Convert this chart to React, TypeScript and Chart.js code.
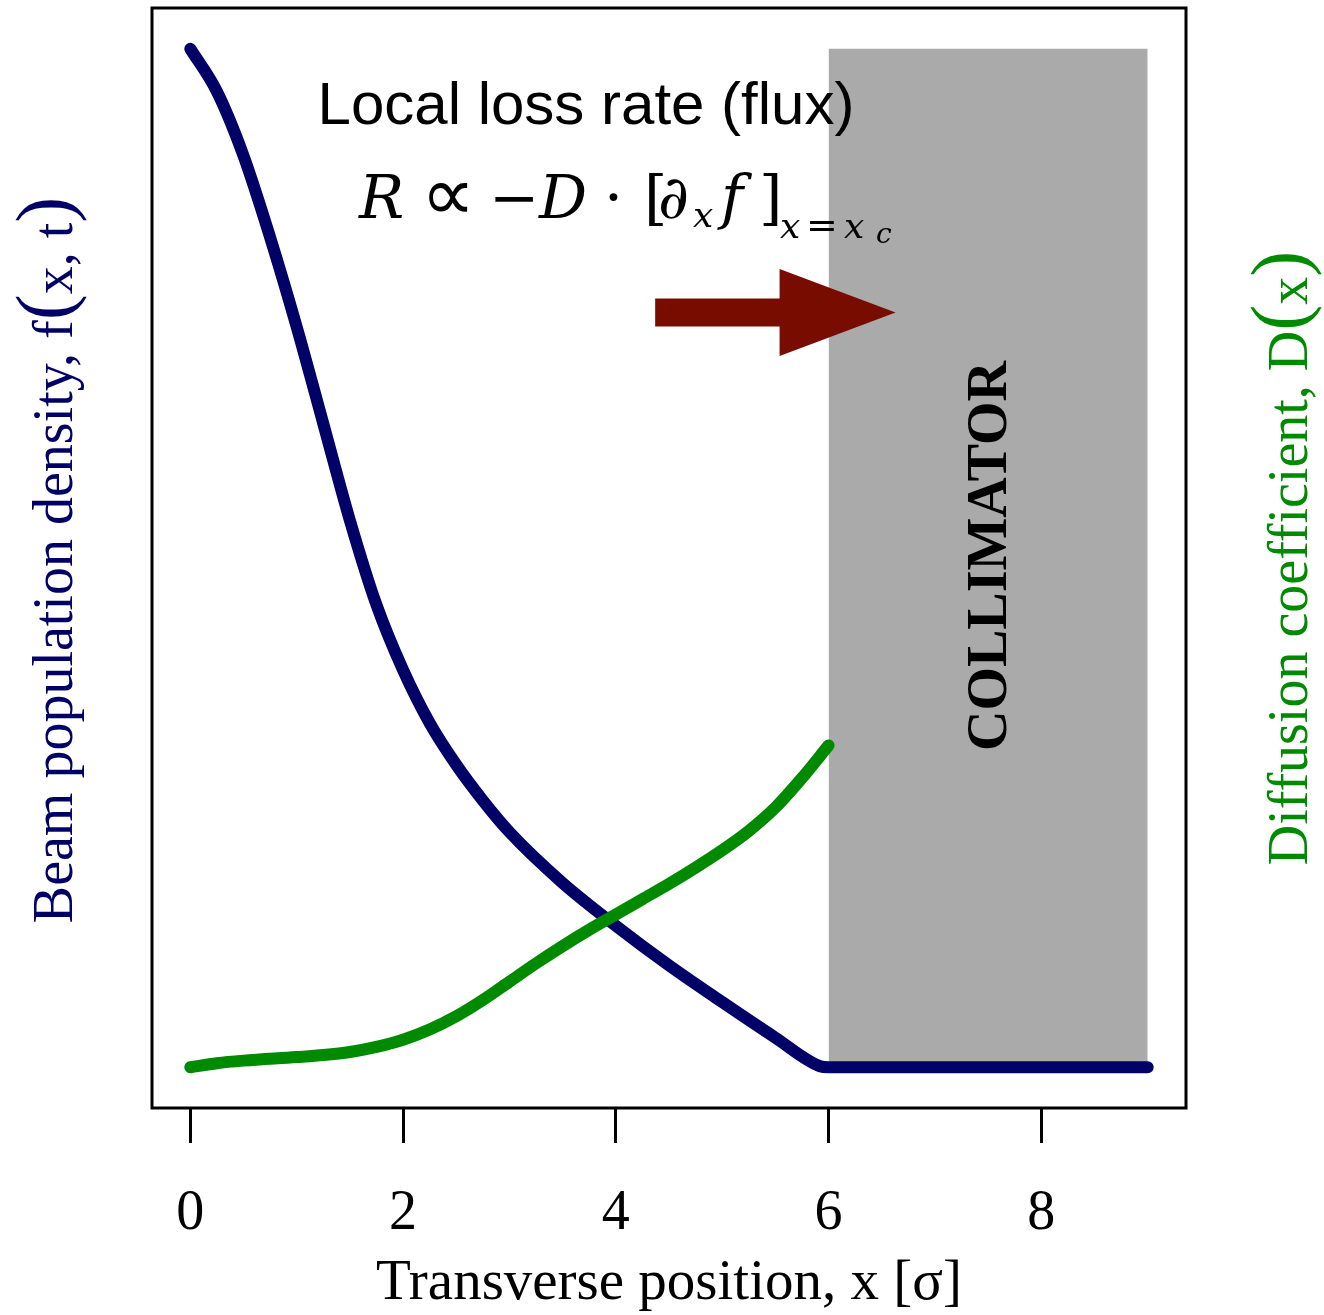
import { useEffect, useRef } from "react";
import { Chart, registerables } from "chart.js";

Chart.register(...registerables);

// Beam population density f(x, t) across the transverse position (in sigma)
const DENSITY_X = [0, 0.25, 0.5, 0.75, 1.0, 1.25, 1.5, 1.75, 2.0, 2.25, 2.5, 2.75, 3.0, 3.5, 4.0, 4.5, 5.0, 5.5, 5.92, 6.0, 9.0];
const DENSITY_F = [1.0, 0.958, 0.895, 0.815, 0.727, 0.632, 0.537, 0.454, 0.39, 0.338, 0.297, 0.262, 0.231, 0.181, 0.139, 0.1, 0.064, 0.029, 0.001, 0, 0];

// Diffusion coefficient D(x), defined up to the collimator edge
const DIFFUSION_X = [0, 0.25, 0.5, 1.0, 1.25, 1.5, 1.75, 2.0, 2.25, 2.5, 2.75, 3.0, 3.25, 3.5, 3.75, 4.0, 4.25, 4.5, 4.75, 5.0, 5.25, 5.5, 5.75, 6.0];
const DIFFUSION_D = [0.0, 0.004, 0.0065, 0.01, 0.012, 0.015, 0.02, 0.027, 0.037, 0.05, 0.066, 0.084, 0.102, 0.119, 0.135, 0.15, 0.165, 0.18, 0.196, 0.213, 0.232, 0.255, 0.284, 0.316];

// Collimator jaw: from the edge x_c to the end of the range, full height
const COLLIMATOR_X = [6, 9];
const COLLIMATOR_HEIGHT = 1.0;

const X_TICKS = [0, 2, 4, 6, 8];
const X_LIMITS = [-0.36, 9.36];
const Y_LIMITS = [-0.04, 1.04];

// Flux arrow pointing into the collimator (data coordinates)
const ARROW_X = [4.37, 6.63];
const ARROW_Y = 0.741;

const NAVY = "#000066";
const GREEN = "#008a00";
const GREY = "#aaaaaa";
const DARK_RED = "#780c00";
const SERIF = '"Liberation Serif", "Times New Roman", "DejaVu Serif", serif';
const MATH = '"DejaVu Serif", "Liberation Serif", serif';
const SANS = '"Liberation Sans", Arial, "DejaVu Sans", sans-serif';

type Run = { text: string; font: string; dx?: number; dy?: number };

function drawRotatedRuns(ctx: CanvasRenderingContext2D, baseX: number, centerY: number, runs: Run[], color: string) {
  ctx.save();
  ctx.translate(baseX, centerY);
  ctx.rotate(-Math.PI / 2);
  ctx.fillStyle = color;
  ctx.textBaseline = "alphabetic";
  ctx.textAlign = "left";
  let total = 0;
  const widths = runs.map((r) => {
    ctx.font = r.font;
    const w = ctx.measureText(r.text).width;
    total += w;
    return w;
  });
  let pos = -total / 2;
  runs.forEach((r, i) => {
    ctx.font = r.font;
    ctx.fillText(r.text, pos, r.dy ?? 0);
    pos += widths[i];
  });
  ctx.restore();
}

const decorations = {
  id: "decorations",
  afterDatasetsDraw(chart: any) {
    const { ctx, chartArea: a, scales } = chart;
    const x = scales.x;
    const y = scales.y;
    ctx.save();

    // plot frame
    ctx.strokeStyle = "#000";
    ctx.lineWidth = 3;
    ctx.strokeRect(a.left, a.top, a.right - a.left, a.bottom - a.top);

    // flux arrow
    const x0 = x.getPixelForValue(ARROW_X[0]);
    const x1 = x.getPixelForValue(ARROW_X[1]);
    const ay = y.getPixelForValue(ARROW_Y);
    const headLen = 116;
    const headHalf = 43.5;
    const shaftHalf = 14;
    ctx.fillStyle = DARK_RED;
    ctx.beginPath();
    ctx.moveTo(x0, ay - shaftHalf);
    ctx.lineTo(x1 - headLen, ay - shaftHalf);
    ctx.lineTo(x1 - headLen, ay - headHalf);
    ctx.lineTo(x1, ay);
    ctx.lineTo(x1 - headLen, ay + headHalf);
    ctx.lineTo(x1 - headLen, ay + shaftHalf);
    ctx.lineTo(x0, ay + shaftHalf);
    ctx.closePath();
    ctx.fill();

    // heading
    ctx.fillStyle = "#000";
    ctx.font = `60px ${SANS}`;
    ctx.textAlign = "center";
    ctx.textBaseline = "alphabetic";
    ctx.fillText("Local loss rate (flux)", 586, 124);

    // flux formula
    const fx = 359;
    const fy = 218;
    const it = (s: number) => `italic ${s}px ${MATH}`;
    const up = (s: number) => `${s}px ${MATH}`;
    const formula: Run[] = [
      { text: "R", font: it(60), dx: 0 },
      { text: "∝", font: `76px "DejaVu Sans", ${MATH}`, dx: 62, dy: 2 },
      { text: "−", font: up(60), dx: 130 },
      { text: "D", font: it(60), dx: 180 },
      { text: "·", font: up(60), dx: 245 },
      { text: "[", font: up(60), dx: 285 },
      { text: "∂", font: it(60), dx: 299 },
      { text: "x", font: it(36), dx: 334, dy: 9 },
      { text: "f", font: it(60), dx: 362 },
      { text: "]", font: up(60), dx: 400 },
      { text: "x", font: it(36), dx: 421, dy: 20 },
      { text: "=", font: up(38), dx: 447, dy: 20 },
      { text: "x", font: it(36), dx: 485, dy: 20 },
      { text: "c", font: it(28), dx: 517, dy: 25 },
    ];
    ctx.textAlign = "left";
    formula.forEach((r) => {
      ctx.font = r.font;
      ctx.fillText(r.text, fx + (r.dx ?? 0), fy + (r.dy ?? 0));
    });

    // collimator label
    ctx.save();
    ctx.translate(x.getPixelForValue(7.5) + 3, y.getPixelForValue(0.5) - 2);
    ctx.rotate(-Math.PI / 2);
    ctx.font = `bold 56px ${SERIF}`;
    ctx.textAlign = "center";
    ctx.textBaseline = "middle";
    ctx.fillStyle = "#000";
    ctx.fillText("COLLIMATOR", 0, 0);
    ctx.restore();

    // axis titles for the two curves
    const mid = (a.top + a.bottom) / 2;
    drawRotatedRuns(
      ctx,
      72,
      mid + 2,
      [
        { text: "Beam population density, f", font: `56px ${SERIF}` },
        { text: "(", font: `78px ${SERIF}`, dy: -2 },
        { text: "x, t", font: `56px ${SERIF}` },
        { text: ")", font: `78px ${SERIF}`, dy: -2 },
      ],
      NAVY
    );
    drawRotatedRuns(
      ctx,
      1307,
      mid,
      [
        { text: "Diffusion coefficient, D", font: `56px ${SERIF}` },
        { text: "(", font: `78px ${SERIF}`, dy: -2 },
        { text: "x", font: `56px ${SERIF}` },
        { text: ")", font: `78px ${SERIF}`, dy: -2 },
      ],
      GREEN
    );

    ctx.restore();
  },
};

export default function App() {
  const ref = useRef<HTMLCanvasElement>(null);

  useEffect(() => {
    const canvas = ref.current;
    if (!canvas) return;
    const chart = new Chart(canvas, {
      type: "line",
      data: {
        datasets: [
          {
            label: "D(x)",
            data: DIFFUSION_X.map((v, i) => ({ x: v, y: DIFFUSION_D[i] })),
            borderColor: GREEN,
            borderWidth: 12,
            borderCapStyle: "round",
            borderJoinStyle: "round",
            cubicInterpolationMode: "monotone",
            pointRadius: 0,
            fill: false,
            order: 0,
          },
          {
            label: "f(x, t)",
            data: DENSITY_X.map((v, i) => ({ x: v, y: DENSITY_F[i] })),
            borderColor: NAVY,
            borderWidth: 12,
            borderCapStyle: "round",
            borderJoinStyle: "round",
            cubicInterpolationMode: "monotone",
            pointRadius: 0,
            fill: false,
            order: 1,
          },
          {
            label: "collimator",
            data: COLLIMATOR_X.map((v) => ({ x: v, y: COLLIMATOR_HEIGHT })),
            borderColor: "rgba(0,0,0,0)",
            borderWidth: 1,
            backgroundColor: GREY,
            pointRadius: 0,
            fill: "origin",
            order: 2,
          },
        ],
      },
      options: {
        animation: false,
        responsive: false,
        devicePixelRatio: 1,
        layout: { padding: { left: 152, right: 138, top: 8, bottom: 0 } },
        plugins: { legend: { display: false }, tooltip: { enabled: false } },
        scales: {
          x: {
            type: "linear",
            min: X_LIMITS[0],
            max: X_LIMITS[1],
            afterBuildTicks: (s: any) => {
              s.ticks = X_TICKS.map((v) => ({ value: v }));
            },
            afterFit: (s: any) => {
              s.height = 207;
            },
            grid: { drawOnChartArea: false, drawTicks: true, tickLength: 35, lineWidth: 3, tickWidth: 3, tickColor: "#000" },
            border: { display: false },
            ticks: {
              color: "#000",
              font: { family: SERIF, size: 56 },
              padding: 38,
              autoSkip: false,
              maxRotation: 0,
              callback: (v: any) => String(v),
            },
            title: {
              display: true,
              text: "Transverse position, x [σ]",
              color: "#000",
              font: { family: SERIF, size: 57 },
              padding: { top: 0, bottom: -3 },
            },
          },
          y: { type: "linear", display: false, min: Y_LIMITS[0], max: Y_LIMITS[1] },
        },
      },
      plugins: [decorations],
    } as any);
    return () => chart.destroy();
  }, []);

  return (
    <div style={{ position: "absolute", left: 0, top: 0, width: 1324, height: 1315, background: "#fff" }}>
      <canvas ref={ref} width={1324} height={1315} style={{ display: "block" }} />
    </div>
  );
}
